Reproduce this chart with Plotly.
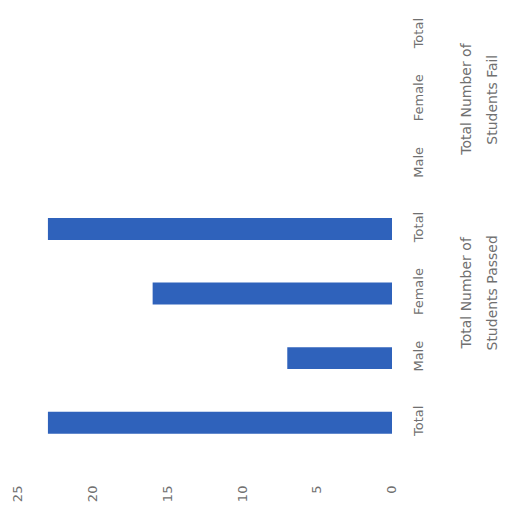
import plotly.graph_objects as go

categories = ["Total", "Male", "Female", "Total ", "Male ", "Female ", "Total  "]
tick_labels = ["Total", "Male", "Female", "Total", "Male", "Female", "Total"]
values = [23, 7, 16, 23, 0, 0, 0]
group_line1 = ["Total Number of", "Total Number of"]
group_line2 = ["Students Passed", "Students Fail"]
group_centers = [2, 5]
value_ticks = [0, 5, 10, 15, 20, 25]

fig = go.Figure()
fig.add_trace(go.Bar(
    x=values, y=list(range(len(categories))), orientation="h",
    marker=dict(color="#2f62bb", line=dict(width=0)),
    width=0.34,
))

fig.update_layout(
    width=508, height=515,
    margin=dict(l=10, r=124, t=0, b=68),
    paper_bgcolor="white", plot_bgcolor="white",
    showlegend=False,
    font=dict(family="DejaVu Sans, Arial, sans-serif", color="#707070", size=12),
)
fig.update_xaxes(
    range=[25, 0], tickvals=value_ticks, ticktext=[str(v) for v in value_ticks],
    tickangle=-90, showgrid=False, zeroline=False, showline=False,
    ticklabelstandoff=27, tickfont=dict(size=13),
)
fig.update_yaxes(
    range=[-0.5, 6.42], tickvals=list(range(len(categories))), ticktext=tick_labels,
    side="right", tickangle=-90, showgrid=False, zeroline=False, showline=False,
    ticklabelstandoff=17, tickfont=dict(size=13),
)
for l1, l2, c in zip(group_line1, group_line2, group_centers):
    fig.add_annotation(
        x=1, xref="paper", xshift=84, y=c, yref="y", text=l1, textangle=-90,
        showarrow=False, font=dict(size=14, color="#707070"),
    )
    fig.add_annotation(
        x=1, xref="paper", xshift=110, y=c, yref="y", text=l2, textangle=-90,
        showarrow=False, font=dict(size=14, color="#707070"),
    )

fig.write_html("out.html")
